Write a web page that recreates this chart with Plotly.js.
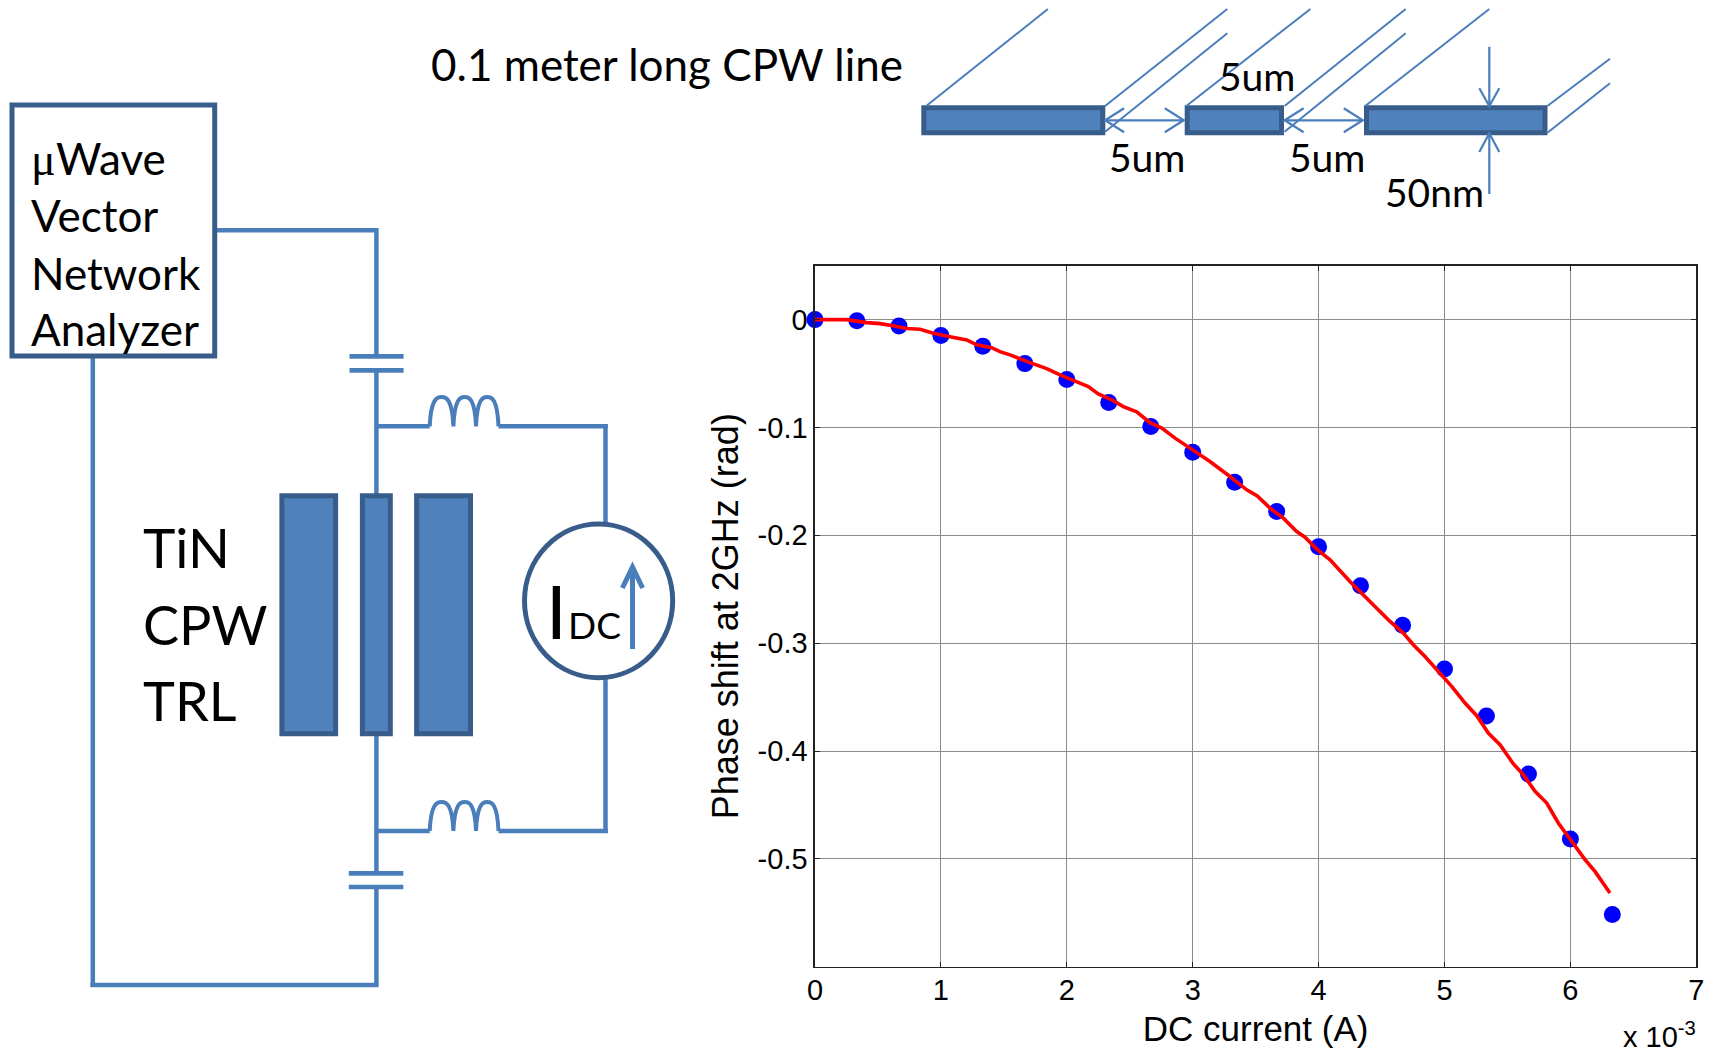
<!DOCTYPE html>
<html>
<head>
<meta charset="utf-8">
<script src="https://cdn.plot.ly/plotly-3.0.1.min.js"></script>
<style>html,body{margin:0;padding:0;background:#fff}#c{width:1716px;height:1054px}</style>
</head>
<body>
<div id="c"></div>
<script>
// ---------- chart data ----------
var measuredCurrent = [0,0.333,0.667,1,1.333,1.667,2,2.333,2.667,3,3.333,3.667,4,4.333,4.667,5,5.333,5.667,6,6.333];
var measuredPhase = [0,-0.001,-0.006,-0.0148,-0.0247,-0.0408,-0.0556,-0.0769,-0.0992,-0.1229,-0.1507,-0.1779,-0.2107,-0.2468,-0.2833,-0.324,-0.3676,-0.4214,-0.4816,-0.5517];
var modelCurrent = [0,0.252,0.411,0.516,0.622,0.728,0.834,0.94,1.072,1.205,1.284,1.403,1.469,1.549,1.708,1.84,1.946,2.052,2.171,2.25,2.369,2.449,2.555,2.661,2.754,2.86,2.952,3.058,3.137,3.296,3.429,3.513,3.614,3.72,3.826,3.892,3.985,4.091,4.249,4.408,4.567,4.673,4.752,4.845,4.99,5.057,5.163,5.256,5.348,5.441,5.546,5.626,5.719,5.812,5.904,6.023,6.116,6.195,6.314];
var modelPhase = [0,0,-0.0028,-0.0037,-0.0056,-0.0083,-0.0089,-0.0126,-0.0158,-0.0188,-0.0234,-0.026,-0.0297,-0.0327,-0.0399,-0.0454,-0.0513,-0.0565,-0.0621,-0.0689,-0.0751,-0.0806,-0.0855,-0.0955,-0.1006,-0.1099,-0.1171,-0.126,-0.1316,-0.1455,-0.1578,-0.1634,-0.1748,-0.1841,-0.1965,-0.2017,-0.2128,-0.2227,-0.2428,-0.2614,-0.2799,-0.2906,-0.3015,-0.3123,-0.3314,-0.3401,-0.3555,-0.3673,-0.3833,-0.3942,-0.4118,-0.422,-0.4374,-0.4482,-0.4667,-0.4853,-0.5007,-0.5116,-0.5316];
var xTicks = [0,1,2,3,4,5,6,7];
var xTickLabels = ['0','1','2','3','4','5','6','7'];
var yTicks = [0,-0.1,-0.2,-0.3,-0.4,-0.5];
var yTickLabels = ['0','-0.1','-0.2','-0.3','-0.4','-0.5'];

// ---------- page ----------
var W = 1716, H = 1054;
var WIRE = '#4a7ebb', EDGE = '#385d8a', FILL = '#4f81bd';
var shapes = [], notes = [];

function line(x0,y0,x1,y1,w,c){
  shapes.push({type:'line',xref:'x2',yref:'y2',x0:x0,y0:y0,x1:x1,y1:y1,line:{color:c||WIRE,width:w||4.5}});
}
function rect(x0,y0,x1,y1,fill){
  shapes.push({type:'rect',xref:'x2',yref:'y2',x0:x0,y0:y0,x1:x1,y1:y1,
    fillcolor:fill||'rgba(0,0,0,0)',line:{color:EDGE,width:5}});
}
function path(d,w,c){
  shapes.push({type:'path',xref:'x2',yref:'y2',path:d,line:{color:c||WIRE,width:w||4.5}});
}
function label(text,x,base,size,family,color){
  notes.push({xref:'x2',yref:'y2',x:x,y:base+size*0.2,text:text,showarrow:false,
    xanchor:'left',yanchor:'bottom',borderpad:0,borderwidth:0,
    font:{family:family||'Lato',size:size,color:color||'#000'}});
}
function inductor(x,y,top){
  var a = x[0], b = x[1], c = x[2], d = x[3];
  function hump(p,q){
    var w = q-p;
    return 'C '+(p+w*0.05)+' '+(top+2)+' '+(p+w*0.3)+' '+top+' '+(p+w*0.5)+' '+top+
           ' C '+(p+w*0.7)+' '+top+' '+(p+w*0.95)+' '+(top+2)+' '+q+' '+y+' ';
  }
  path('M '+a+' '+y+' '+hump(a,b)+' M '+b+' '+y+' '+hump(b,c)+' M '+c+' '+y+' '+hump(c,d),4);
}
function cap(x0,x1,y0,y1){
  line(x0,y0,x1,y0,4.7);
  line(x0,y1,x1,y1,4.7);
}

// circuit wires
line(217,230.3,376.4,230.3);
line(376.4,228,376.4,356);
cap(349.5,403.6,356.3,370.3);
line(376.4,370,376.4,497);
line(376.4,732,376.4,873);
cap(348.8,403.3,873.3,887);
line(376.4,887,376.4,985);
line(92.8,358,92.8,987);
line(90.5,985,378.6,985);
line(376.4,426.3,429.7,426.3);
line(498.5,426.3,607.7,426.3);
line(605.5,424,605.5,524);
line(376.4,831,429.7,831);
line(498.5,831,607.7,831);
line(605.5,678,605.5,833);
inductor([429.7,453.4,476,498.5],426.3,397);
inductor([429.7,453.4,476,498.5],831,802);
rect(12,105,214.7,356);
rect(281.9,495.7,335.6,733.7,FILL);
rect(362.4,495.7,390.3,733.7,FILL);
rect(416.6,495.7,470.5,733.7,FILL);
shapes.push({type:'circle',xref:'x2',yref:'y2',x0:524.5,y0:524,x1:672.7,y1:677.7,
  fillcolor:'rgba(0,0,0,0)',line:{color:EDGE,width:5}});
line(632.5,649,632.5,569,5);
path('M 622.4 588 L 632.5 567 L 642.6 588',5);

// cross-section
rect(923.8,107.7,1102.8,132.7,FILL);
rect(1187.2,107.7,1281.5,132.7,FILL);
rect(1366.5,107.7,1545,132.7,FILL);
[[926.2,106,1047.9,9],[1105.1,106,1227.3,9],[1105.1,131.7,1227.3,33.3],
 [1186.3,106,1310.4,9],[1284.6,106,1405.7,9],[1284.6,131.7,1405.7,33.3],
 [1365.2,106,1489.3,9],[1547.4,106,1610,58.7],[1547.4,132.7,1610,83.3]
].forEach(function(s){line(s[0],s[1],s[2],s[3],2);});
function hArrow(x0,x1,y){
  line(x0,y,x1,y,2.2);
  path('M '+(x0+19)+' '+(y-12)+' L '+x0+' '+y+' L '+(x0+19)+' '+(y+12),2.2);
  path('M '+(x1-19)+' '+(y-12)+' L '+x1+' '+y+' L '+(x1-19)+' '+(y+12),2.2);
}
hArrow(1105.1,1183.8,120.3);
hArrow(1284.6,1362.8,120.3);
line(1489.3,46.7,1489.3,106,2.2);
path('M 1479.3 88.3 L 1489.3 106 L 1499.3 88.3',2.2);
line(1489.3,194,1489.3,133.3,2.2);
path('M 1479.3 152 L 1489.3 133.3 L 1499.3 152',2.2);

// text
label('0.1 meter long CPW line',431,81,44);
label('\u03bc',31,175.3,46,'Liberation Serif');
label('Wave',55.7,175.3,44);
label('Vector',31,232,44);
label('Network',31,290.3,44);
label('Analyzer',31,345.7,44);
label('TiN',142.5,569,55);
label('CPW',143,645.7,54);
label('TRL',142.5,722.3,54);
label('I',545.5,640,74);
label('DC',567.7,640,37);
label('5um',1219,90.7,39);
label('5um',1108.5,171.7,39);
label('5um',1288.8,171.7,39);
label('50nm',1385,206.7,39);
notes.push({xref:'x2',yref:'y2',x:1623,y:1035,text:'x 10<sup>-3</sup>',showarrow:false,
  xanchor:'left',yanchor:'middle',borderpad:0,borderwidth:0,
  font:{family:'Liberation Sans',size:29,color:'#000'}});

var traces = [
  {x:measuredCurrent,y:measuredPhase,mode:'markers',type:'scatter',cliponaxis:false,
   marker:{color:'#0000ff',size:17,line:{width:0}},hoverinfo:'skip'},
  {x:modelCurrent,y:modelPhase,mode:'lines',type:'scatter',cliponaxis:false,
   line:{color:'#ff0000',width:3.6},hoverinfo:'skip'},
  {x:[],y:[],xaxis:'x2',yaxis:'y2',type:'scatter',mode:'markers',hoverinfo:'skip'}
];

var axisFont = {family:'Liberation Sans',size:29,color:'#000'};
var layout = {
  width:W,height:H,showlegend:false,paper_bgcolor:'#fff',plot_bgcolor:'rgba(0,0,0,0)',
  margin:{l:0,r:0,t:0,b:0,pad:0},
  xaxis:{domain:[815/W,1696.3/W],range:[0,7],tickmode:'array',tickvals:xTicks,ticktext:xTickLabels,
    showgrid:true,gridcolor:'#8c8c8c',gridwidth:1,zeroline:false,showline:true,linecolor:'#222',linewidth:1.6,
    mirror:'ticks',ticks:'inside',ticklen:5,tickwidth:1,tickcolor:'#222',tickfont:axisFont,ticklabelstandoff:-3,
    title:{text:'DC current (A)',font:{family:'Liberation Sans',size:35,color:'#000'},standoff:11},automargin:false},
  yaxis:{domain:[1-966.7/H,1-265.7/H],range:[-0.6,0.05],tickmode:'array',tickvals:yTicks,ticktext:yTickLabels,
    showgrid:true,gridcolor:'#8c8c8c',gridwidth:1,zeroline:false,showline:true,linecolor:'#222',linewidth:1.6,
    mirror:'ticks',ticks:'inside',ticklen:5,tickwidth:1,tickcolor:'#222',tickfont:axisFont,
    title:{text:'Phase shift at 2GHz (rad)',font:{family:'Liberation Sans',size:36,color:'#000'},standoff:8},automargin:false},
  xaxis2:{domain:[0,1],range:[0,W],visible:false,fixedrange:true,anchor:'y2'},
  yaxis2:{domain:[0,1],range:[H,0],visible:false,fixedrange:true,anchor:'x2'},
  shapes:shapes,annotations:notes
};
Plotly.newPlot('c',traces,layout,{staticPlot:true,displayModeBar:false});
</script>
</body>
</html>
